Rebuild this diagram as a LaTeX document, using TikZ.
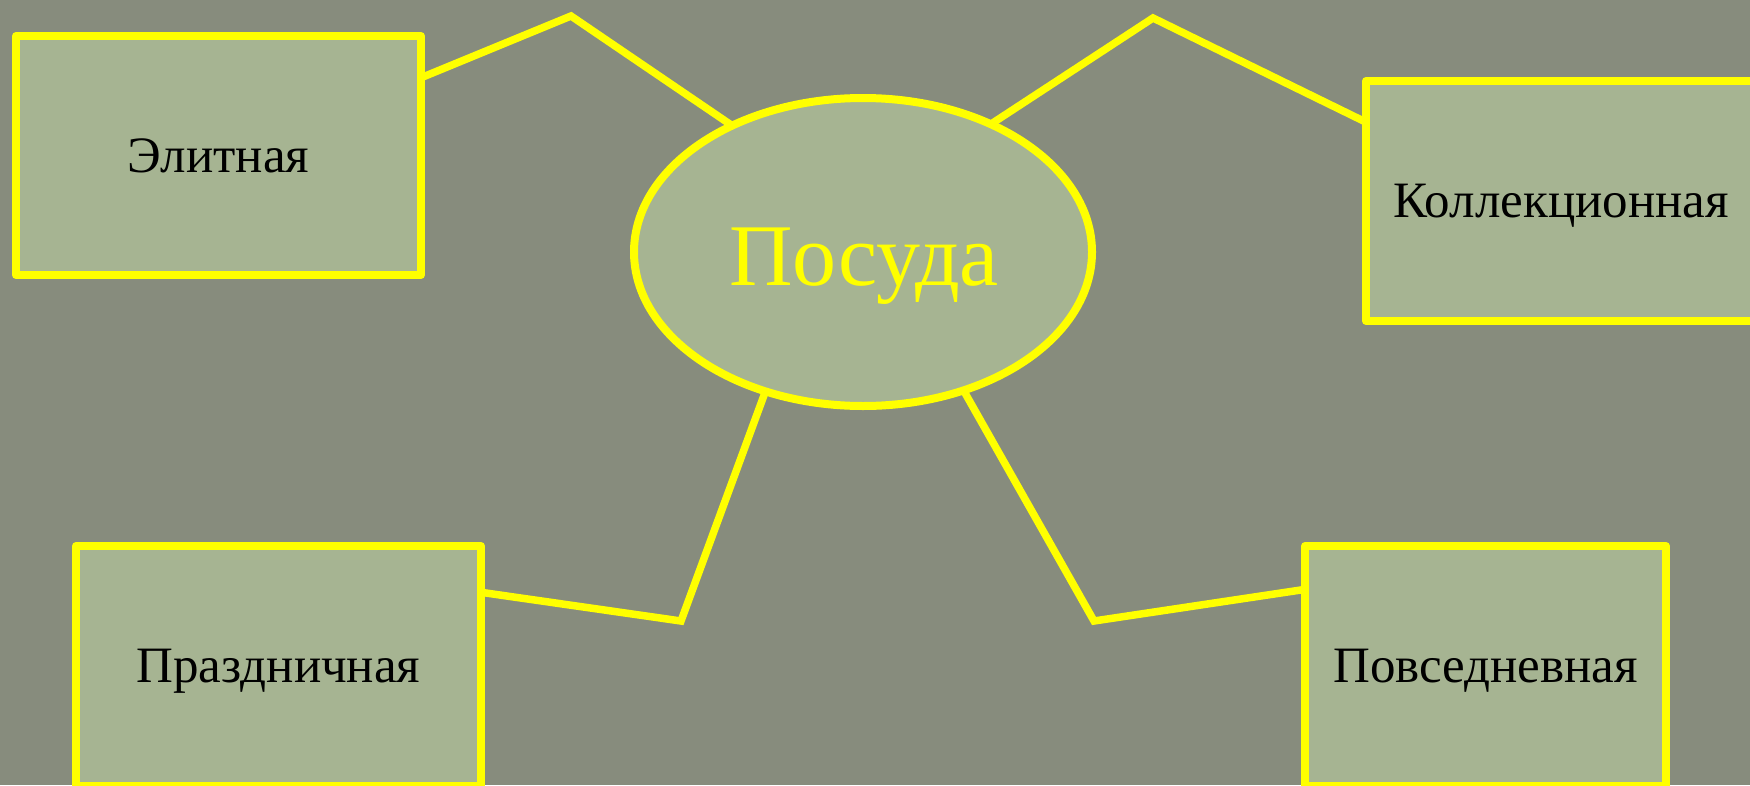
\documentclass[tikz,border=0pt]{standalone}
\usepackage{fontspec}
\setmainfont{Liberation Serif}
\usetikzlibrary{shapes.geometric}
\definecolor{bg}{RGB}{135,140,125}
\definecolor{boxfill}{RGB}{166,180,146}
\definecolor{yel}{RGB}{255,255,0}
\tikzset{
  catbox/.style={draw=yel, line width=8pt, fill=boxfill, line join=round, outer sep=0pt,
    inner sep=0pt, text height=33pt, text depth=0pt, font=\fontsize{51}{60}\selectfont, text=black},
  centre/.style={ellipse, draw=yel, line width=8pt, fill=boxfill, line join=round, outer sep=0pt, inner sep=0pt},
  conn/.style={draw=yel, line width=7.5pt, line join=miter},
}
\begin{document}
\begin{tikzpicture}[x=1pt,y=-1pt]
\useasboundingbox (0,0) rectangle (1750,785);
\fill[bg] (0,0) rectangle (1750,785);
\coordinate (c1) at (571,16);
\coordinate (c2) at (1153,18);
\coordinate (c3) at (681,621);
\coordinate (c4) at (1094,621);
\node[centre, minimum width=458pt, minimum height=308pt] (pos) at (863,252) {};
\node[catbox, minimum width=405pt, minimum height=239pt] (elite) at (218.5,155.5) {Элитная};
\node[catbox, minimum width=390pt, minimum height=240pt] (koll) at (1561,201) {Коллекционная};
\node[catbox, minimum width=405pt, minimum height=240pt] (prazd) at (278.5,666) {Праздничная};
\node[catbox, minimum width=361pt, minimum height=240pt] (povs) at (1485.5,666) {Повседневная};
\draw[conn] (elite.21.2) -- (c1) -- (pos.136.7);
\draw[conn] (pos.45.9) -- (c2) -- (koll.158.2);
\draw[conn] (prazd.20.6) -- (c3) -- (pos.235.2);
\draw[conn] (pos.306.4) -- (c4) -- (povs.157.2);
\node[anchor=base, text=yel, font=\fontsize{88}{100}\selectfont, inner sep=0pt] (postext) at (864,285) {Посуда};
\end{tikzpicture}
\end{document}
